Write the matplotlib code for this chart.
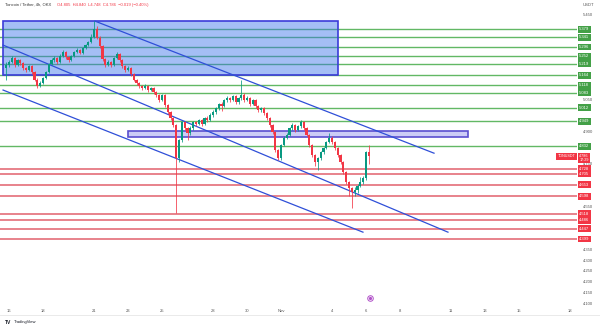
import matplotlib
matplotlib.use('Agg')
import matplotlib.pyplot as plt
import matplotlib.patches as patches
import numpy as np

plt.rcParams['font.family'] = ['Liberation Sans', 'DejaVu Sans']

# TONUSDT 4h candles (OKX), first candle Oct 15 20:00, last Nov 6 04:00
first_open = 5.200
closes = [5.212,
          5.226, 5.244, 5.212, 5.235, 5.221, 5.198,   # Oct 16
          5.188, 5.207, 5.179, 5.142, 5.114, 5.128,   # Oct 17
          5.151, 5.179, 5.216, 5.235, 5.244, 5.226,   # Oct 18
          5.254, 5.272, 5.249, 5.235, 5.254, 5.272,   # Oct 19
          5.282, 5.268, 5.291, 5.305, 5.319, 5.345,   # Oct 20
          5.380, 5.340, 5.300, 5.240, 5.212, 5.226,   # Oct 21
          5.212, 5.244, 5.263, 5.235, 5.207, 5.188,   # Oct 22
          5.198, 5.170, 5.142, 5.128, 5.114, 5.104,   # Oct 23
          5.114, 5.095, 5.104, 5.086, 5.071, 5.048,   # Oct 24
          5.071, 5.025, 4.992, 4.964, 4.931, 4.777,   # Oct 25
          4.861, 4.945, 4.917, 4.894, 4.917, 4.945,   # Oct 26
          4.936, 4.955, 4.936, 4.964, 4.955, 4.978,   # Oct 27
          4.992, 5.011, 5.029, 5.020, 5.048, 5.057,   # Oct 28
          5.048, 5.067, 5.039, 5.057, 5.071, 5.048,   # Oct 29
          5.057, 5.029, 5.048, 5.020, 5.001, 5.011,   # Oct 30
          4.987, 4.964, 4.931, 4.899, 4.814, 4.777,   # Oct 31
          4.838, 4.871, 4.885, 4.917, 4.931, 4.908,   # Nov 1
          4.927, 4.945, 4.917, 4.885, 4.838, 4.791,   # Nov 2
          4.758, 4.777, 4.805, 4.824, 4.852, 4.871,   # Nov 3
          4.852, 4.824, 4.791, 4.758, 4.712, 4.665,   # Nov 4
          4.637, 4.618, 4.628, 4.646, 4.665, 4.684,   # Nov 5
          4.805, 4.786]                               # Nov 6
highs = [5.225,
         5.236, 5.255, 5.250, 5.242, 5.240, 5.228,
         5.205, 5.214, 5.212, 5.185, 5.150, 5.135,
         5.158, 5.186, 5.222, 5.245, 5.252, 5.250,
         5.262, 5.280, 5.276, 5.255, 5.260, 5.278,
         5.290, 5.288, 5.298, 5.312, 5.326, 5.355,
         5.417, 5.395, 5.348, 5.306, 5.246, 5.234,
         5.232, 5.250, 5.272, 5.268, 5.240, 5.214,
         5.206, 5.202, 5.175, 5.148, 5.134, 5.120,
         5.122, 5.118, 5.110, 5.108, 5.090, 5.076,
         5.078, 5.076, 5.030, 4.998, 4.970, 4.936,
         4.868, 4.952, 4.950, 4.922, 4.925, 4.952,
         4.952, 4.962, 4.960, 4.970, 4.972, 4.986,
         5.000, 5.018, 5.036, 5.040, 5.055, 5.066,
         5.064, 5.074, 5.072, 5.064, 5.142, 5.080,
         5.066, 5.062, 5.055, 5.052, 5.026, 5.018,
         5.016, 4.992, 4.970, 4.936, 4.904, 4.820,
         4.845, 4.878, 4.892, 4.924, 4.940, 4.936,
         4.934, 4.955, 4.950, 4.922, 4.890, 4.844,
         4.798, 4.784, 4.812, 4.830, 4.858, 4.894,
         4.878, 4.858, 4.830, 4.798, 4.764, 4.718,
         4.672, 4.644, 4.640, 4.654, 4.690, 4.692,
         4.812, 4.840]
lows = [5.140,
        5.205, 5.220, 5.205, 5.206, 5.214, 5.190,
        5.180, 5.184, 5.172, 5.135, 5.105, 5.108,
        5.122, 5.146, 5.174, 5.210, 5.228, 5.218,
        5.220, 5.248, 5.242, 5.228, 5.230, 5.250,
        5.266, 5.262, 5.264, 5.286, 5.300, 5.314,
        5.338, 5.332, 5.292, 5.232, 5.204, 5.206,
        5.205, 5.208, 5.238, 5.228, 5.200, 5.180,
        5.182, 5.162, 5.135, 5.120, 5.106, 5.096,
        5.098, 5.088, 5.090, 5.078, 5.064, 5.040,
        5.042, 5.018, 4.984, 4.955, 4.922, 4.520,
        4.760, 4.850, 4.908, 4.860, 4.886, 4.910,
        4.928, 4.930, 4.928, 4.930, 4.946, 4.950,
        4.970, 4.985, 5.004, 4.995, 5.014, 5.040,
        5.040, 5.042, 5.030, 5.032, 5.050, 5.040,
        5.042, 5.022, 5.024, 5.012, 4.994, 4.994,
        4.980, 4.956, 4.924, 4.890, 4.805, 4.766,
        4.770, 4.832, 4.864, 4.880, 4.910, 4.900,
        4.902, 4.920, 4.910, 4.878, 4.830, 4.782,
        4.740, 4.722, 4.770, 4.798, 4.818, 4.846,
        4.845, 4.816, 4.782, 4.750, 4.704, 4.656,
        4.600, 4.543, 4.598, 4.612, 4.640, 4.655,
        4.676, 4.748]

green_levels = [5.379, 5.341, 5.296, 5.252, 5.219, 5.164, 5.118, 5.083, 5.012, 4.949, 4.832]
red_levels = [4.728, 4.705, 4.653, 4.598, 4.518, 4.486, 4.447, 4.399]
last_price = 4.786

# zones: (start day, end day, low, high), day 0 = Oct 16
supply_zone = (-0.35, 19.35, 5.165, 5.417)
pivot_zone = (7.0, 27.0, 4.875, 4.903)

# channel lines: (days, prices)
channel_upper = ([5.06, 25.0], [5.417, 4.800])
channel_mid = ([-0.35, 25.82], [5.305, 4.431])
channel_low = ([-0.35, 20.82], [5.095, 4.431])

day_ticks = [0, 2, 5, 7, 9, 12, 14, 16, 19, 21, 23, 26, 28, 30, 33]
day_labels = ['16', '18', '21', '23', '25', '28', '30', 'Nov', '4', '6', '8', '11', '13', '15', '18']
price_ticks = [4.10, 4.15, 4.20, 4.25, 4.30, 4.35, 4.40, 4.45, 4.50, 4.55, 4.60, 4.65, 4.70,
               4.75, 4.80, 4.85, 4.90, 4.95, 5.00, 5.05, 5.10, 5.15, 5.20, 5.25, 5.30,
               5.35, 5.40, 5.45]
event_day = 21.24

UP = '#089981'
DOWN = '#f23645'
GREEN_LINE = '#62b865'
GREEN_TAG = '#43a047'
RED_LINE = '#e2606c'
BLUE = '#2f4fd8'
TXT = '#555555'
fs = 3.0

fig = plt.figure(figsize=(6, 3.28), dpi=100)
ax = fig.add_axes([0, 22 / 328, 577 / 600, 296 / 328])
ax.set_xlim(-0.53, 33.41)
ax.set_ylim(4.086, 5.469)

closes = np.array(closes)
opens = np.r_[first_open, closes[:-1]]
t = (np.arange(len(closes)) - 1) / 6
colors = np.where(closes >= opens, UP, DOWN)

# horizontal levels
for p in green_levels:
    ax.axhline(p, color=GREEN_LINE, lw=1.0, zorder=1)
for p in red_levels:
    ax.axhline(p, color=RED_LINE, lw=1.1, zorder=1)

# zones
x0, x1, lo, hi = supply_zone
ax.add_patch(patches.Rectangle((x0, lo), x1 - x0, hi - lo, fc=(55 / 255, 111 / 255, 233 / 255, 0.45),
                               ec='#3b3bd9', lw=1.2, zorder=2))
x0, x1, lo, hi = pivot_zone
ax.add_patch(patches.Rectangle((x0, lo), x1 - x0, hi - lo, fc=(110 / 255, 110 / 255, 230 / 255, 0.35),
                               ec='#5a4fcf', lw=1.2, zorder=2))

# channel
for xs, ys in (channel_upper, channel_mid, channel_low):
    ax.plot(xs, ys, color=BLUE, lw=0.9, zorder=2.5)

# candles
ax.vlines(t, lows, highs, colors=colors, lw=0.55, zorder=3)
ax.bar(t, closes - opens, bottom=opens, width=0.13, color=colors, lw=0, zorder=3.1)

# event icon
ax.plot(event_day, 4.123, 'o', ms=4, mfc='white', mec='#b04fc8', mew=0.7, zorder=4, clip_on=False)
ax.plot(event_day, 4.123, 'o', ms=1.3, color='#b04fc8', zorder=4.1, clip_on=False)

# axes styling; plain price labels that sit under a tag are left out
tags = green_levels + red_levels + [last_price]
shown = [v for v in price_ticks if min(abs(v - p) for p in tags) > 0.022]
for s in ax.spines.values():
    s.set_visible(False)
ax.yaxis.tick_right()
ax.set_yticks(shown)
ax.set_yticklabels([f'{v:.3f}' for v in shown])
ax.set_xticks(day_ticks)
ax.set_xticklabels(day_labels)
ax.tick_params(axis='y', length=0, pad=4, labelsize=fs, labelcolor=TXT)
ax.tick_params(axis='x', length=0, pad=2, labelsize=fs, labelcolor=TXT)

# price tags on the right axis
ytr = ax.get_yaxis_transform()
for p in green_levels:
    ax.text(1.004, p, f'{p:.3f}', transform=ytr, ha='left', va='center', fontsize=fs, color='white',
            bbox=dict(boxstyle='square,pad=0.35', fc=GREEN_TAG, ec='none'), zorder=6, clip_on=False)
for p in red_levels:
    ax.text(1.004, p, f'{p:.3f}', transform=ytr, ha='left', va='center', fontsize=fs, color='white',
            bbox=dict(boxstyle='square,pad=0.35', fc=DOWN, ec='none'), zorder=6, clip_on=False)
ax.text(1.004, last_price + 0.009, f'{last_price:.3f}\n17:29', transform=ytr, ha='left', va='top',
        fontsize=2.7, color='white', linespacing=0.95,
        bbox=dict(boxstyle='square,pad=0.3', fc=DOWN, ec='none'), zorder=7, clip_on=False)
ax.text(0.997, last_price, 'TONUSDT', transform=ytr, ha='right', va='center', fontsize=fs * 0.9,
        color='white', bbox=dict(boxstyle='square,pad=0.4', fc=DOWN, ec='none'), zorder=7)

# header and decorations
fig.text(5 / 600, 1 - 5 / 328, 'Toncoin / Tether, 4h, OKX', fontsize=fs, color='#333333', va='center')
fig.text(57 / 600, 1 - 5 / 328, 'O4.805  H4.840  L4.748  C4.786  \u22120.019 (\u22120.40%)', fontsize=fs,
         color=DOWN, va='center')
fig.text(588 / 600, 1 - 5 / 328, 'USDT', fontsize=fs, color=TXT, va='center', ha='center')
fig.add_artist(plt.Line2D([0, 1], [13 / 328, 13 / 328], color='#e6e6e6', lw=0.6))
fig.text(5 / 600, 6 / 328, 'TV', fontsize=3.6, fontweight='bold', color='#131722', va='center')
fig.text(14 / 600, 6 / 328, 'TradingView', fontsize=3.0, color='#131722', va='center')

fig.savefig('out.png', dpi=100, facecolor='white')
